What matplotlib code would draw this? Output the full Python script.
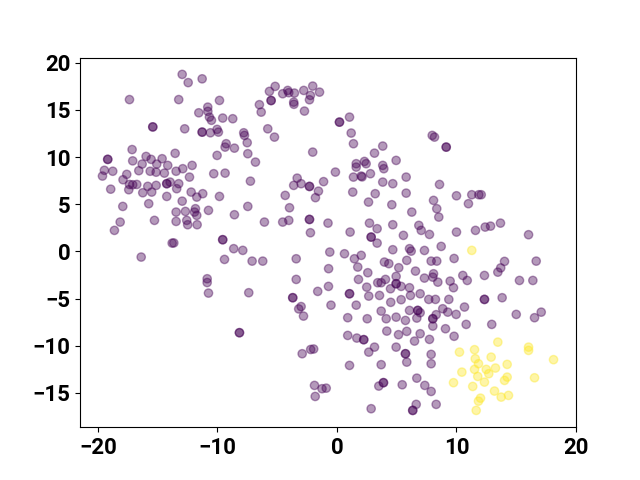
import matplotlib
matplotlib.use("Agg")
from matplotlib import pyplot as plt
import numpy as np

plt.rcParams['font.family'] = ['Roboto', 'DejaVu Sans']

# class 0 points (purple) -----------------------------------------------------
x_purple = [
    -12.95, -12.45, -11.28, -17.36, -13.24, -15.41, -15.41, -11.56, -12.74, -11.28, -11.28,
    -17.14, -13.54, -19.18, -19.18, -17.09, -15.97, -15.55, -14.63, -16.3, -15.08, -14.16,
    -12.12, -19.46, -18.76, -16.58, -15.63, -15.13, -14.44, -13.46, -12.9, -17.59, -19.62,
    -17.9, -12.34,
    -18.93, -17.36, -17.09, -16.75, -17.42, -15.83, -15.13, -16.25, -15.5, -14.24, -14.24,
    -13.96, -13.24, -13.41, -14.24, -12.2, -11.73, -11.23, -12.95, -17.92, -15.75, -13.46,
    -12.68, -11.84, -11.92, -11.73, -18.14, -18.62, -15.27, -13.46, -12.57, -12.49, -11.7,
    -13.79, -13.65, -16.38,
    -5.17, -5.65, -4.54, -4.12, -4.03, -3.56, -2.78, -2.03, -1.46, -2.22, -2.3, -3.62, -3.6,
    -5.51, -5.51, -2.72, -6.49, -6.34, -9.83, -10.81, -10.8, -10.67, -10.5, -9.56, -8.72,
    -10.59, -10.03, -9.92, -7.8, -7.74, -7.51, -5.79, -5.23, -9.27, -9.36, -8.58, -7.46,
    -10.03, -6.82, -2.03, -10.31, -9.36, -7.24, -3.33, -1.12,
    0.21, 0.21, 1.05, 1.19, 1.38, 3.83, 3.14, 4.95, 7.97, 8.16, 9.14, 9.14, -0.13, 1.61,
    1.61, 2.3, 2.44, 3.83, 3.92, 2.8, 2.03, 2.1, 1.38, 5.79,
    3.83, 4.67, 8.58, 1.32, 3.2, 2.64, 4.59, 5.79, 8.08, 8.35, 8.52, 10.0, 6.26, 2.72, 4.67,
    6.85, 7.05, 7.74, 3.36, 2.86, 2.86, 3.36, 1.1, 5.56, -0.75, 10.0, 8.72, 6.07, 6.21, 4.67,
    7.32, 0.63, -0.6, 2.03, 1.46, 3.97, 4.34, 5.84, 7.88, 8.35, 9.8, 1.74, 5.17, 2.58, 6.57,
    -0.7, 4.95, 1.8, 4.06, 3.41, 3.7, 7.32, 8.02, 8.08, 8.44, 9.47, 4.95, 4.95, 5.37, 4.48,
    6.07, 2.49, 1.05, 1.05, 2.66, 3.56, 6.15, 6.96, 4.5, 5.37, 7.68, 8.24, 9.36,
    -0.5, 1.61, 3.7, 6.07, 6.76, 6.76, 6.96, 8.85, 9.27, 8.3, 0.9, 2.53, 4.12, 4.95, 5.73,
    6.68, 8.02, 8.02, 8.02, 9.08, 9.8, 0.9, 1.66, 2.24, 2.24, 4.17, 5.15, 5.84, 6.96, 6.49,
    7.74, 3.14, 2.66, 4.95, 5.73, 5.73, 5.84, 7.88, 7.88, 1.05, 3.7, 6.68, 3.5, 3.89, 3.89,
    5.46, 7.35, 7.88, 2.86, 6.63, 6.34, 6.34, 8.3,
    -3.2, -3.0, -2.8, -8.16, -8.16, -2.91, -2.2, -1.95, -1.88, -1.25, -0.9, -1.82,
    -9.83, -10.75, -8.58, -7.46, -6.07, -4.54, -4.03, -3.97, -4.33, -3.62, -3.0, -2.3, -2.3,
    -1.55, -1.8, -2.3, -2.3, -2.22, -9.56, -9.56, -8.64, -7.88, -9.41, -7.1, -6.21, -3.41,
    -3.41, -10.86, -10.86, -10.75, -7.38, -3.7, -3.7, -1.61, -0.71,
    11.28, 11.87, 12.07, 11.0, 11.59, 12.4, 12.85, 13.68, 16.03, 14.02, 16.67, 13.7, 13.46,
    10.53, 10.9, 12.34, 9.75, 15.27, 16.39, 12.34, 12.34, 13.82, 10.67,
    9.97, 10.81, 12.95, 15.0, 16.53, 17.09,
]
y_purple = [
    18.77, 17.9, 18.3, 16.1, 16.1, 13.2, 13.2, 14.7, 13.0, 12.65, 12.65,
    10.8, 10.4, 9.76, 9.76, 9.6, 10.07, 9.76, 9.83, 9.26, 9.26, 9.12,
    9.12, 8.6, 8.5, 8.56, 8.5, 8.4, 8.3, 8.5, 8.77, 8.17, 7.99,
    7.6, 7.88,
    6.6, 7.1, 7.07, 7.1, 6.54, 6.9, 7.0, 6.22, 6.29, 7.18, 7.18,
    7.35, 7.18, 6.65, 5.83, 6.29, 5.76, 6.12, 5.33, 4.77, 5.06, 4.17,
    4.24, 4.53, 4.17, 3.82, 3.11, 2.23, 3.29, 3.18, 3.29, 2.83, 2.83,
    0.88, 0.9, -0.6,
    17.5, 16.97, 16.72, 17.07, 16.83, 16.79, 17.07, 17.53, 16.89, 16.54, 16.08, 15.83, 15.6,
    16.0, 16.0, 14.88, 15.56, 14.77, 16.01, 15.3, 14.85, 14.24, 13.9, 14.14, 14.07,
    12.58, 12.94, 12.65, 12.58, 12.3, 11.53, 13.0, 12.12, 11.42, 11.06, 10.95, 10.36,
    10.18, 9.47, 10.53, 8.24, 8.3, 7.45, 7.77, 7.4,
    13.71, 13.71, 14.24, 12.55, 11.42, 11.17, 10.42, 9.65, 12.3, 12.12, 11.06, 11.06, 8.41, 9.3,
    8.94, 9.54, 9.3, 9.12, 8.77, 8.24, 7.99, 7.9, 7.88, 7.88,
    7.35, 7.18, 7.1, 6.29, 6.12, 5.23, 4.95, 6.18, 5.41, 4.53, 3.64, 5.9, 4.17, 3.0, 2.83,
    2.76, 2.23, 1.8, 2.41, 1.52, 1.52, 0.88, 2.05, 1.7, 3.0, 2.05, 0.53, 0.29, 0.03, 0.18,
    0.1, -0.25, -0.07, -0.42, -0.78, -1.13, -1.3, -0.95, -1.03, -1.03, -0.75, -1.66, -1.73, -2.26, -2.09,
    -1.83, -2.65, -2.97, -2.97, -3.32, -3.32, -2.83, -2.73, -2.37, -3.26, -3.15, -3.43, -3.43, -3.71, -3.96,
    -3.85, -3.79, -4.49, -4.49, -4.74, -4.67, -4.67, -4.49, -5.4, -5.12, -5.09, -5.09, -5.09,
    -5.7, -5.7, -6.33, -6.26, -6.26, -6.26, -6.5, -6.08, -6.44, -6.71, -7.03, -7.14, -7.14, -6.97, -7.32,
    -7.07, -7.14, -7.14, -7.92, -8.2, -9.0, -8.91, -9.19, -9.36, -9.36, -8.45, -8.83, -8.48, -8.73, -9.51,
    -9.33, -10.15, -10.68, -10.15, -10.85, -10.85, -11.74, -10.92, -11.91, -12.09, -12.01, -13.44, -14.28, -13.92, -13.92,
    -14.14, -14.21, -14.85, -16.68, -16.22, -16.86, -16.86, -16.22,
    -6.1, -5.85, -6.86, -8.62, -8.62, -10.85, -10.4, -10.35, -14.21, -14.56, -14.5, -15.38,
    5.83, 4.35, 3.89, 4.77, 3.11, 3.11, 3.29, 4.63, 5.94, 7.0, 7.18, 6.89, 6.89,
    6.39, 5.7, 3.39, 3.39, 1.98, 1.24, 1.24, 0.29, 0.11, -0.85, -1.03, -1.03, -0.78,
    -2.97, -2.9, -3.3, -4.42, -4.38, -4.91, -4.91, -4.24, -3.71,
    6.01, 6.01, 6.01, 5.06, 2.23, 2.58, 2.68, 3.0, 1.77, -1.06, -1.03, -1.75, -2.2,
    -2.55, -3.08, -2.55, -3.85, -3.08, -3.08, -5.09, -5.09, -4.91, -5.9,
    -6.68, -7.74, -7.74, -6.68, -7.03, -6.44,
]

# class 1 points (yellow) -----------------------------------------------------
x_yellow = [11.28, 13.46, 11.51, 10.25, 16.03, 16.03, 12.9, 11.57, 11.84, 14.24, 18.12, 13.26,
            12.49, 11.51, 10.45, 12.7, 11.78, 14.24, 14.02, 16.53, 9.75, 12.34, 11.36, 13.18,
            13.74, 14.35, 12.01, 11.84, 11.65]
y_yellow = [0.11, -9.62, -10.42, -10.68, -10.15, -10.5, -11.21, -11.38, -11.91, -11.98, -11.48, -12.37,
            -12.51, -12.51, -12.8, -12.97, -13.26, -13.33, -13.68, -13.4, -13.92, -13.86, -14.32, -14.81,
            -15.45, -15.27, -15.56, -15.88, -16.86]

x = np.array(x_purple + x_yellow)
y = np.array(y_purple + y_yellow)
labels = np.array([0] * len(x_purple) + [1] * len(x_yellow))

fig = plt.figure(figsize=(6.4, 4.8), dpi=100)
ax = plt.subplot()
plt.scatter(x, y, c=labels, cmap='viridis', alpha=0.4)
ax.set_xlim(-21.5, 20.0)
plt.xticks([-20, -10, 0, 10, 20], fontsize=16, fontweight='bold')
plt.yticks([-15, -10, -5, 0, 5, 10, 15, 20], fontsize=16, fontweight='bold')
plt.savefig("out.png", dpi=100)
